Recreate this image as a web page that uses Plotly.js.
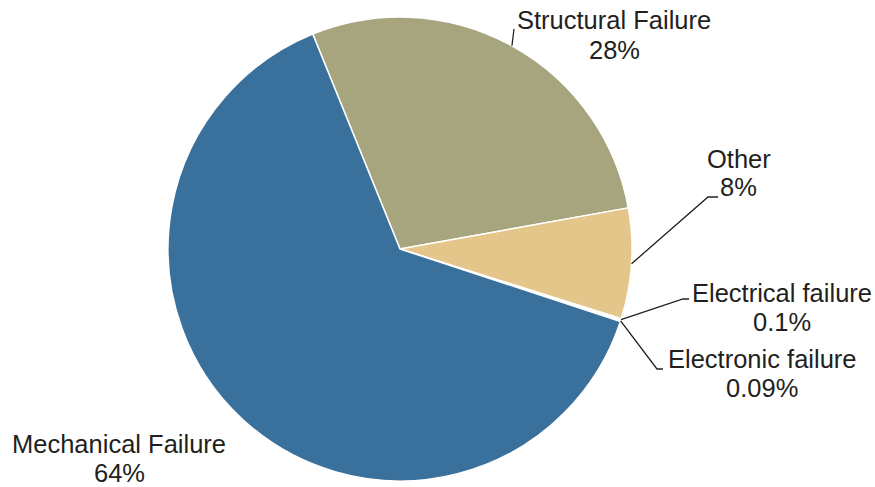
<!DOCTYPE html>
<html>
<head>
<meta charset="utf-8">
<script src="https://cdn.plot.ly/plotly-3.0.1.min.js"></script>
<style>html,body{margin:0;padding:0;background:#fff;}#chart{width:875px;height:487px;}</style>
</head>
<body>
<div id="chart"></div>
<script>
// ---- data ----
const categories = ['Structural Failure', 'Other', 'Electrical failure', 'Electronic failure', 'Mechanical Failure'];
const shares = [28.3, 7.7, 0.1, 0.09, 63.8];
const pctLabels = ['28%', '8%', '0.1%', '0.09%', '64%'];
const sliceColors = ['#a7a57e', '#e4c58a', '#f2b9a4', '#e9a79a', '#3a709c'];

// ---- layout geometry (pixels) ----
const W = 875, H = 487;
const cx = 400, cy = 249, R = 232;
const startAngle = -22.1;
// label text positions: [nameX, nameY, pctX, pctY]
const labelPos = [
  [614, 20, 614, 50],
  [739, 159, 738, 187],
  [782, 293, 782, 322],
  [762, 359, 762, 388],
  [119, 444, 119, 473]
];
// leader line bends (after edge point); null = no line
const leaderPts = [
  [[514, 29]],
  [[708, 197], [718, 197]],
  [[683, 299], [689, 299]],
  [[657, 369], [663, 369]],
  null
];

const px = x => x / W;
const py = y => 1 - y / H;

const total = shares.reduce((a, b) => a + b, 0);
let cum = 0;
const annotations = [];
const shapes = [];
const fnt = {family: 'Liberation Sans, Arial, sans-serif', size: 25.5, color: '#231f20'};
shares.forEach((v, i) => {
  const mid = (startAngle + (cum + v / 2) / total * 360) * Math.PI / 180;
  cum += v;
  const ex = cx + R * Math.sin(mid), ey = cy - R * Math.cos(mid);
  const p = labelPos[i];
  annotations.push({xref: 'paper', yref: 'paper', x: px(p[0]), y: py(p[1]), text: categories[i],
    showarrow: false, xanchor: 'center', yanchor: 'middle', font: fnt});
  annotations.push({xref: 'paper', yref: 'paper', x: px(p[2]), y: py(p[3]), text: pctLabels[i],
    showarrow: false, xanchor: 'center', yanchor: 'middle', font: fnt});
  if (leaderPts[i]) {
    let path = 'M ' + px(ex) + ',' + py(ey);
    leaderPts[i].forEach(q => { path += ' L ' + px(q[0]) + ',' + py(q[1]); });
    shapes.push({type: 'path', xref: 'paper', yref: 'paper', path: path,
      line: {color: '#231f20', width: 1.3}});
  }
});

const trace = {
  type: 'pie',
  labels: categories,
  values: shares,
  sort: false,
  direction: 'clockwise',
  rotation: startAngle,
  textinfo: 'none',
  hoverinfo: 'label+percent',
  marker: {colors: sliceColors, line: {color: '#ffffff', width: 1.5}},
  domain: {x: [(cx - R) / W, (cx + R) / W], y: [1 - (cy + R) / H, 1 - (cy - R) / H]},
  showlegend: false
};

const layout = {
  width: W, height: H,
  margin: {l: 0, r: 0, t: 0, b: 0},
  paper_bgcolor: '#ffffff',
  showlegend: false,
  annotations: annotations,
  shapes: shapes
};

Plotly.newPlot('chart', [trace], layout, {displayModeBar: false, staticPlot: true});
</script>
</body>
</html>
